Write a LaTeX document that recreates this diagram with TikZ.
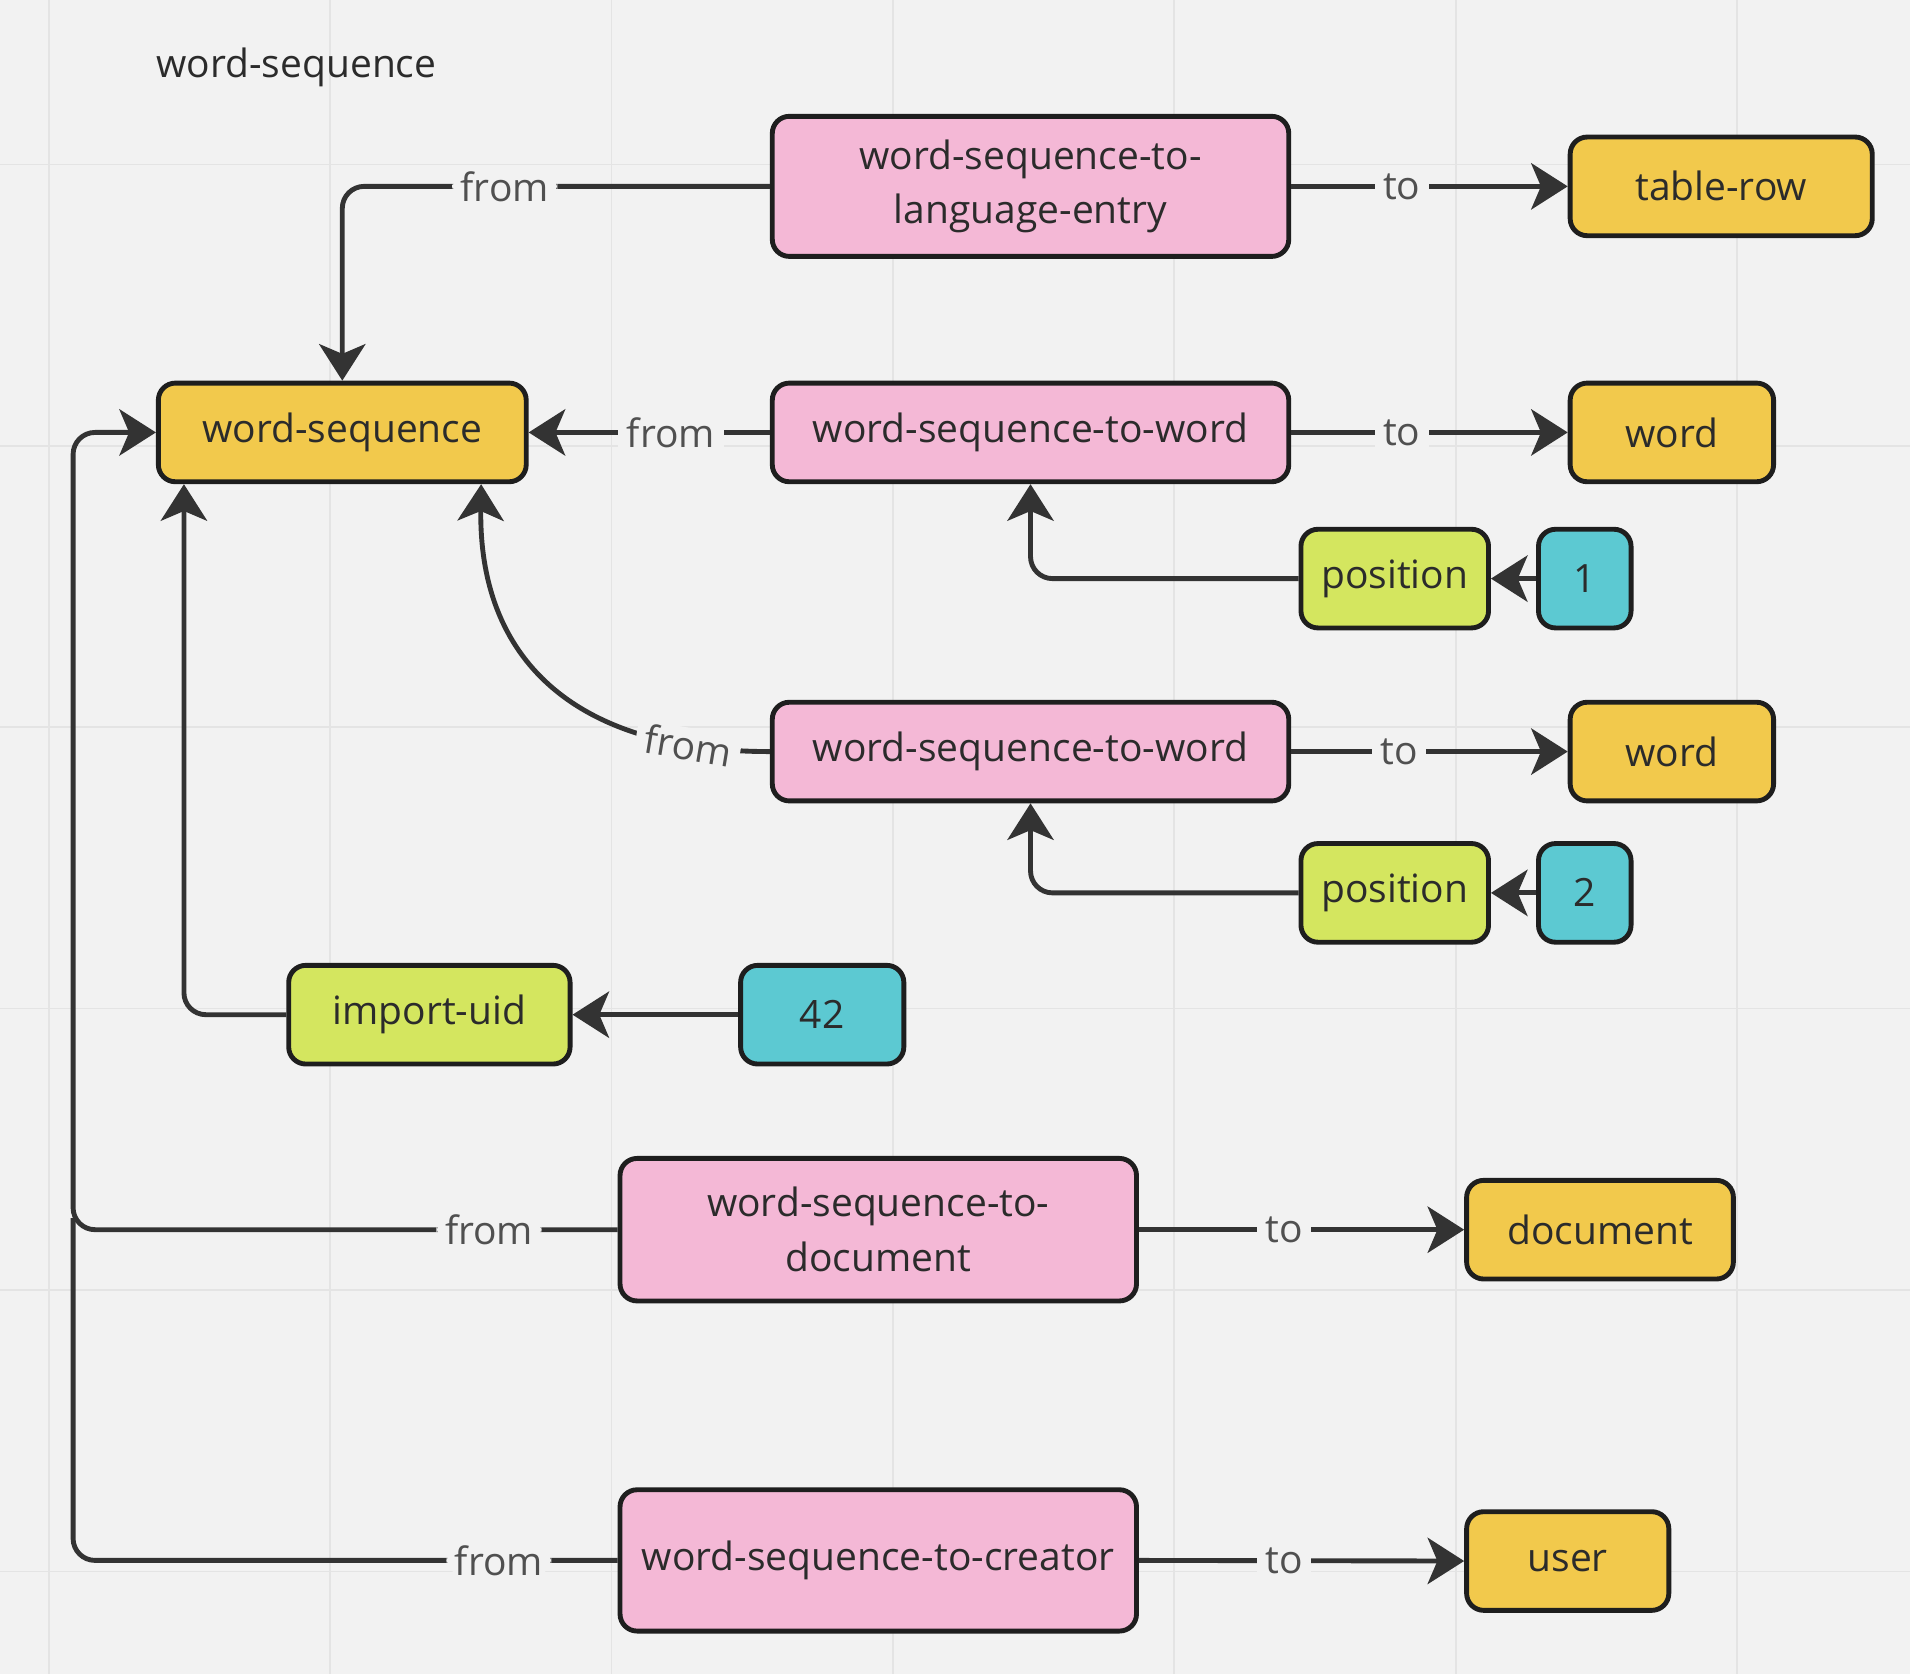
\documentclass[tikz,border=0pt]{standalone}
\usepackage{fontspec}
\setmainfont{Open Sans}
\usetikzlibrary{arrows.meta,calc}
\definecolor{bg}{HTML}{F2F2F2}
\definecolor{gridc}{HTML}{E4E4E4}
\definecolor{ylw}{HTML}{F2C94C}
\definecolor{pnk}{HTML}{F4B8D6}
\definecolor{grn}{HTML}{D4E65F}
\definecolor{cyn}{HTML}{5CC9D2}
\definecolor{edgec}{HTML}{333333}
\definecolor{bordc}{HTML}{1E1E1E}
\definecolor{txtc}{HTML}{2B2B2B}
\definecolor{lblc}{HTML}{505050}
\begin{document}
\begin{tikzpicture}[x=0.5pt,y=-0.5pt,
  box/.style={draw=bordc, line width=2pt, rounded corners=7pt, inner sep=0pt,
    minimum height=40.5pt, text=txtc, font=\fontsize{16}{22.5}\selectfont, align=center},
  ybox/.style={box, fill=ylw},
  pbox/.style={box, fill=pnk, minimum width=212pt},
  gbox/.style={box, fill=grn},
  cbox/.style={box, fill=cyn},
  conn/.style={draw=edgec, line width=2pt,
    -{Stealth[length=15pt,width=19pt,inset=4pt]}},
  bent/.style={conn, rounded corners=9pt},
  lbl/.style={fill=bg, text=lblc, inner xsep=3.5pt, inner ysep=1pt,
    font=\fontsize{16}{19}\selectfont},
  gridline/.style={draw=gridc, line width=0.7pt}]

\useasboundingbox (0,0) rectangle (1568,1374);
\fill[bg] (0,0) rectangle (1568,1374);
\foreach \gx in {40,271,502,733,964,1195,1426} \draw[gridline] (\gx,0) -- (\gx,1374);
\foreach \gy in {135,366,597,828,1059,1290} \draw[gridline] (0,\gy) -- (1568,\gy);

% title
\node[anchor=west, inner sep=0pt, text=txtc, font=\fontsize{16}{19}\selectfont] (title) at (128,55) {word-sequence};

% nodes
\node[pbox, minimum height=57.5pt] (lang) at (846,153) {word-sequence-to-\\language-entry};
\node[ybox, minimum width=124pt] (tablerow) at (1413,153) {table-row};
\node[ybox, minimum width=151pt] (ws) at (281,355) {word-sequence};
\node[pbox] (wsw1) at (846,355) {word-sequence-to-word};
\node[ybox, minimum width=83.5pt] (word1) at (1372.5,355) {word};
\node[gbox, minimum width=77pt] (pos1) at (1145,475) {position};
\node[cbox, minimum width=38pt] (one) at (1301,475) {1};
\node[pbox] (wsw2) at (846,617) {word-sequence-to-word};
\node[ybox, minimum width=83.5pt] (word2) at (1372.5,617) {word};
\node[gbox, minimum width=77pt] (pos2) at (1145,733) {position};
\node[cbox, minimum width=38pt] (two) at (1301,733) {2};
\node[gbox, minimum width=115.5pt] (uid) at (352.5,833) {import-uid};
\node[cbox, minimum width=67pt] (n42) at (675,833) {42};
\node[pbox, minimum height=58.5pt] (docrel) at (721,1009.5) {word-sequence-to-\\document};
\node[ybox, minimum width=109.5pt] (document) at (1313.5,1009.5) {document};
\node[pbox, minimum height=58pt] (creator) at (721,1281) {word-sequence-to-creator};
\node[ybox, minimum width=83pt] (user) at (1287,1281.5) {user};

% connectors
\draw[bent] (lang.west) -- node[lbl,pos=0.62]{from} (281,153) -- (ws.north);
\draw[conn] (lang.east) -- node[lbl,pos=0.40]{to} (tablerow.west);
\draw[conn] (wsw1.west) -- node[lbl,pos=0.41]{from} (ws.east);
\draw[conn] (wsw1.east) -- node[lbl,pos=0.40]{to} (word1.west);
\draw[bent] (pos1.west) -| (wsw1.south);
\draw[conn] (one.west) -- (pos1.east);
\draw[conn] (wsw2.west) .. controls (470,617) and (393,540) .. node[lbl,pos=0.15,sloped]{from} ([xshift=-19.5pt]ws.south east);
\draw[conn] (wsw2.east) -- node[lbl,pos=0.39]{to} (word2.west);
\draw[bent] (pos2.west) -| (wsw2.south);
\draw[conn] (two.west) -- (pos2.east);
\draw[bent] (uid.west) -| ([xshift=11.5pt]ws.south west);
\draw[conn] (n42.west) -- (uid.east);
\draw[bent] (docrel.west) -- node[lbl,pos=0.236]{from} (60,1009.5) |- (ws.west);
\draw[conn] (docrel.east) -- node[lbl,pos=0.446]{to} (document.west);
\draw[bent, -] (creator.west) -- node[lbl,pos=0.218]{from} (60,1281) -- (60,1000);
\draw[conn] (creator.east) -- node[lbl,pos=0.446]{to} (user.west);
\end{tikzpicture}
\end{document}
